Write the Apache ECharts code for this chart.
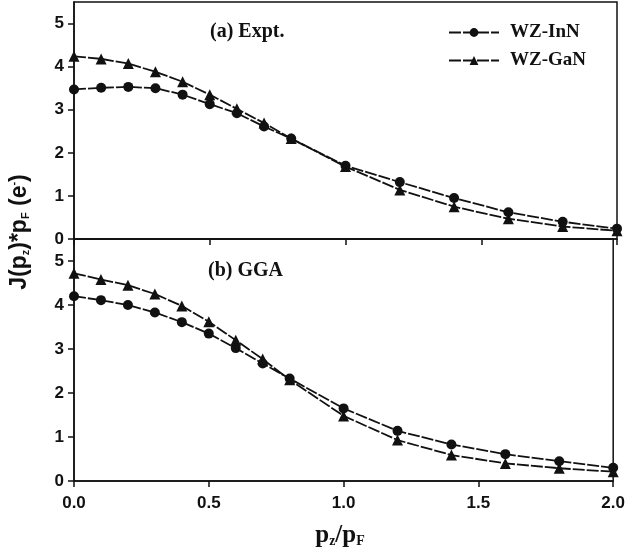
<!DOCTYPE html>
<html>
<head>
<meta charset="utf-8">
<script src="https://cdn.jsdelivr.net/npm/echarts@6/dist/echarts.min.js"></script>
<style>
  html, body { margin: 0; padding: 0; background: #fff; }
  #chart { width: 628px; height: 558px; }
</style>
</head>
<body>
<div id="chart"></div>
<script>
// Momentum values p_z / p_F
const pz = [0, 0.1, 0.2, 0.3, 0.4, 0.5, 0.6, 0.7, 0.8, 1.0, 1.2, 1.4, 1.6, 1.8, 2.0];

// (a) Experimental Compton profiles
const exptInN = [3.47, 3.51, 3.53, 3.50, 3.35, 3.13, 2.92, 2.61, 2.33, 1.70, 1.32, 0.95, 0.62, 0.40, 0.24];
const exptGaN = [4.24, 4.18, 4.07, 3.88, 3.65, 3.35, 3.02, 2.69, 2.33, 1.68, 1.14, 0.75, 0.47, 0.29, 0.19];

// (b) GGA computed profiles
const ggaInN = [4.20, 4.11, 4.00, 3.83, 3.61, 3.35, 3.02, 2.67, 2.33, 1.65, 1.14, 0.83, 0.61, 0.45, 0.30];
const ggaGaN = [4.72, 4.58, 4.45, 4.25, 3.98, 3.62, 3.20, 2.77, 2.30, 1.48, 0.93, 0.59, 0.40, 0.29, 0.21];

const xTicks = ['0.0', '0.5', '1.0', '1.5', '2.0'];
const seriesNames = ['WZ-InN', 'WZ-GaN'];
const panelTitles = ['(a) Expt.', '(b) GGA'];

const pairs = (xs, ys) => xs.map((x, i) => [x, ys[i]]);

const ink = '#111';
const sans = 'Liberation Sans, Arial, sans-serif';
const serif = 'Liberation Serif, Times New Roman, serif';

function xAxisFor(gridIndex, showLabels) {
  return {
    type: 'value', gridIndex, min: 0, max: 2, interval: 0.5,
    axisLine: { show: true, lineStyle: { color: ink, width: 1.5 } },
    axisTick: { show: true, length: 6, lineStyle: { color: ink, width: 1.5 } },
    splitLine: { show: false },
    axisLabel: {
      show: showLabels, color: ink, fontFamily: sans, fontWeight: 'bold', fontSize: 17, margin: 14,
      formatter: v => xTicks[Math.round(v / 0.5)]
    }
  };
}

function yAxisFor(gridIndex) {
  return {
    type: 'value', gridIndex, min: 0, max: 5.5, interval: 1,
    axisLine: { show: true, lineStyle: { color: ink, width: 1.5 } },
    axisTick: { show: true, length: 6, lineStyle: { color: ink, width: 1.5 } },
    splitLine: { show: false },
    axisLabel: {
      color: ink, fontFamily: sans, fontWeight: 'bold', fontSize: 17, margin: 10,
      showMaxLabel: false,
      formatter: v => (Number.isInteger(v) ? String(v) : '')
    }
  };
}

function lineSeries(name, data, idx, symbol, size) {
  return {
    name, type: 'line', xAxisIndex: idx, yAxisIndex: idx,
    data, symbol, symbolSize: size, showSymbol: true,
    itemStyle: { color: ink },
    lineStyle: { color: ink, width: 1.8, type: [12, 2] },
    z: 3
  };
}

const chart = echarts.init(document.getElementById('chart'), null, { renderer: 'canvas' });

chart.setOption({
  backgroundColor: '#fff',
  animation: false,
  grid: [
    { left: 74, right: 11, top: 2, height: 237, show: true, borderColor: ink, borderWidth: 1.5 },
    { left: 74, right: 11, top: 239, height: 242, show: true, borderColor: ink, borderWidth: 1.5 }
  ],
  xAxis: [xAxisFor(0, false), xAxisFor(1, true)],
  yAxis: [yAxisFor(0), yAxisFor(1)],
  legend: {
    data: seriesNames,
    orient: 'vertical',
    left: 443, top: 18,
    itemWidth: 50, itemHeight: 11, itemGap: 9,
    textStyle: { color: ink, fontFamily: serif, fontWeight: 'bold', fontSize: 19, padding: [0, 0, 0, 6] }
  },
  series: [
    lineSeries(seriesNames[0], pairs(pz, exptInN), 0, 'circle', 10),
    lineSeries(seriesNames[1], pairs(pz, exptGaN), 0, 'triangle', 11),
    lineSeries(seriesNames[0], pairs(pz, ggaInN), 1, 'circle', 10),
    lineSeries(seriesNames[1], pairs(pz, ggaGaN), 1, 'triangle', 11)
  ],
  graphic: [
    {
      type: 'text', left: 210, top: 22,
      style: { text: panelTitles[0], fill: ink, font: 'bold 20px ' + serif }
    },
    {
      type: 'text', left: 208, top: 261,
      style: { text: panelTitles[1], fill: ink, font: 'bold 20px ' + serif }
    },
    {
      // Vertical axis title: J(p_z)*p_F (e^-)
      type: 'text', x: 20, y: 232, rotation: Math.PI / 2,
      style: {
        text: '{b|J(p}{s|z}{b|)*p}{s|F}{b| (e}{u|-}{b|)}',
        align: 'center', verticalAlign: 'middle',
        rich: {
          b: { fontFamily: sans, fontWeight: 'bold', fontSize: 23, fill: ink, verticalAlign: 'bottom' },
          s: { fontFamily: sans, fontWeight: 'bold', fontSize: 11, fill: ink, padding: [10, 0, 0, 0], verticalAlign: 'bottom' },
          u: { fontFamily: sans, fontWeight: 'bold', fontSize: 11, fill: ink, padding: [0, 0, 12, 0], verticalAlign: 'top' }
        }
      }
    },
    {
      // Horizontal axis title: p_z / p_F
      type: 'text', x: 340, y: 536,
      style: {
        text: '{b|p}{s|z}{b|/p}{s|F}',
        align: 'center', verticalAlign: 'middle',
        rich: {
          b: { fontFamily: serif, fontWeight: 'bold', fontSize: 25, fill: ink, verticalAlign: 'bottom' },
          s: { fontFamily: serif, fontWeight: 'bold', fontSize: 14, fill: ink, padding: [10, 0, 0, 0], verticalAlign: 'bottom' }
        }
      }
    }
  ]
});
</script>
</body>
</html>
